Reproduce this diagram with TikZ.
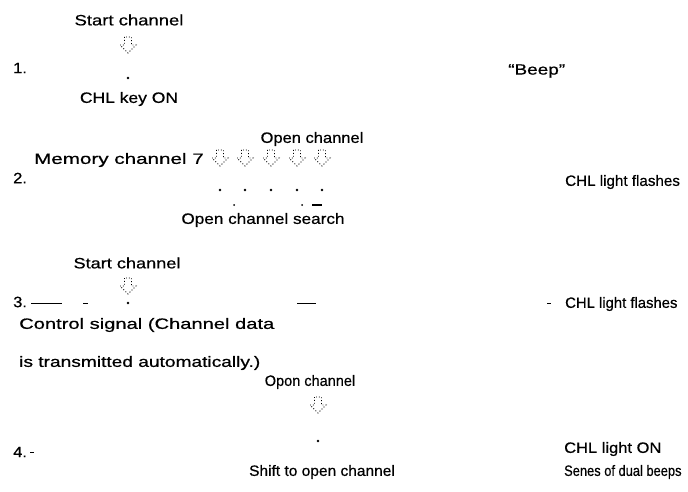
\documentclass[tikz,border=0pt]{standalone}
\usepackage{graphicx}
\usepackage{fontspec}
\setmainfont{Liberation Sans}[FakeStretch=1.1,FakeBold=0.6]
\newcommand\hsq[2]{\scalebox{#1}[1]{#2}}
\begin{document}
\begin{tikzpicture}[x=1pt,y=-1pt,
  lbl/.style={font=\fontsize{15}{18}\selectfont, inner sep=0pt},
  dotmark/.style={circle, fill=black, inner sep=0pt, minimum size=2.8pt},
  rule/.style={line width=1pt},
  downarrow/.pic={\draw[dotted, line width=0.9pt] (-3.5,-8) -- (-3.5,0) -- (-8,0) -- (0,8) -- (8,0) -- (3.5,0) -- (3.5,-8) -- cycle;}]
\useasboundingbox (0,0) rectangle (688,492);
% ---- row 1
\node[lbl] (sc1) at (129,20) {\hsq{1.12}{Start channel}};
\pic (a1) at (128,45) {downarrow};
\node[lbl, anchor=west] (n1) at (13,68) {1.};
\node[dotmark] (d1) at (128,78) {};
\node[lbl] (key) at (129,99) {\hsq{1.06}{CHL key ON}};
\node[lbl, anchor=west] (beep) at (508,71) {\hsq{1.15}{``Beep''}};
% ---- row 2
\node[lbl] (oc2) at (312,139) {Open channel};
\node[lbl, anchor=east] (mem) at (204,160) {\hsq{1.25}{Memory channel 7}};
\foreach \i/\x in {1/220,2/245,3/271,4/297,5/322}{
  \pic (b\i) at (\x,158) {downarrow};
  \node[dotmark] (e\i) at (\x,190) {};
}
\node[lbl, anchor=west] (n2) at (13,178) {2.};
\node[lbl, anchor=west] (fl2) at (565,182) {\hsq{0.92}{CHL light flashes}};
\node[dotmark, minimum size=2pt] (f1) at (234,205) {};
\node[dotmark, minimum size=2pt] (f2) at (302,205) {};
\coordinate (g1) at (312,205);
\coordinate (g2) at (322,205);
\draw[line width=2pt] (g1) -- (g2);
\node[lbl] (ocs) at (263,220) {\hsq{1.04}{Open channel search}};
% ---- row 3
\node[lbl] (sc3) at (127,263) {\hsq{1.1}{Start channel}};
\pic (a3) at (128,286) {downarrow};
\node[lbl, anchor=west] (n3) at (13,302) {3.};
\coordinate (l1) at (31,303);
\coordinate (l2) at (62,303);
\coordinate (l3) at (83,303);
\coordinate (l4) at (88,303);
\coordinate (l5) at (297,303);
\coordinate (l6) at (316,303);
\coordinate (l7) at (547,303);
\coordinate (l8) at (551,303);
\draw[rule] (l1) -- (l2);
\draw[rule] (l3) -- (l4);
\draw[rule] (l5) -- (l6);
\draw[rule] (l7) -- (l8);
\node[dotmark] (d3) at (128,303) {};
\node[lbl, anchor=west] (fl3) at (565,304) {\hsq{0.9}{CHL light flashes}};
\node[lbl, anchor=west] (cs1) at (19,325) {\hsq{1.22}{Control signal (Channel data}};
\node[lbl, anchor=west] (cs2) at (19,363) {\hsq{1.16}{is transmitted automatically.)}};
% ---- row 4
\node[lbl] (oc4) at (310,382) {\hsq{0.88}{Opon channel}};
\pic (a4) at (318,405) {downarrow};
\node[dotmark] (d4) at (318,441) {};
\node[lbl, anchor=west] (n4) at (13,452) {4.};
\coordinate (m1) at (30,452);
\coordinate (m2) at (34,452);
\draw[rule] (m1) -- (m2);
\node[lbl] (shift) at (322,472) {\hsq{0.94}{Shift to open channel}};
\node[lbl, anchor=west] (on4) at (564,449) {CHL light ON};
\node[lbl, anchor=west] (ser) at (564,472) {\hsq{0.78}{Senes of dual beeps}};
\end{tikzpicture}
\end{document}
